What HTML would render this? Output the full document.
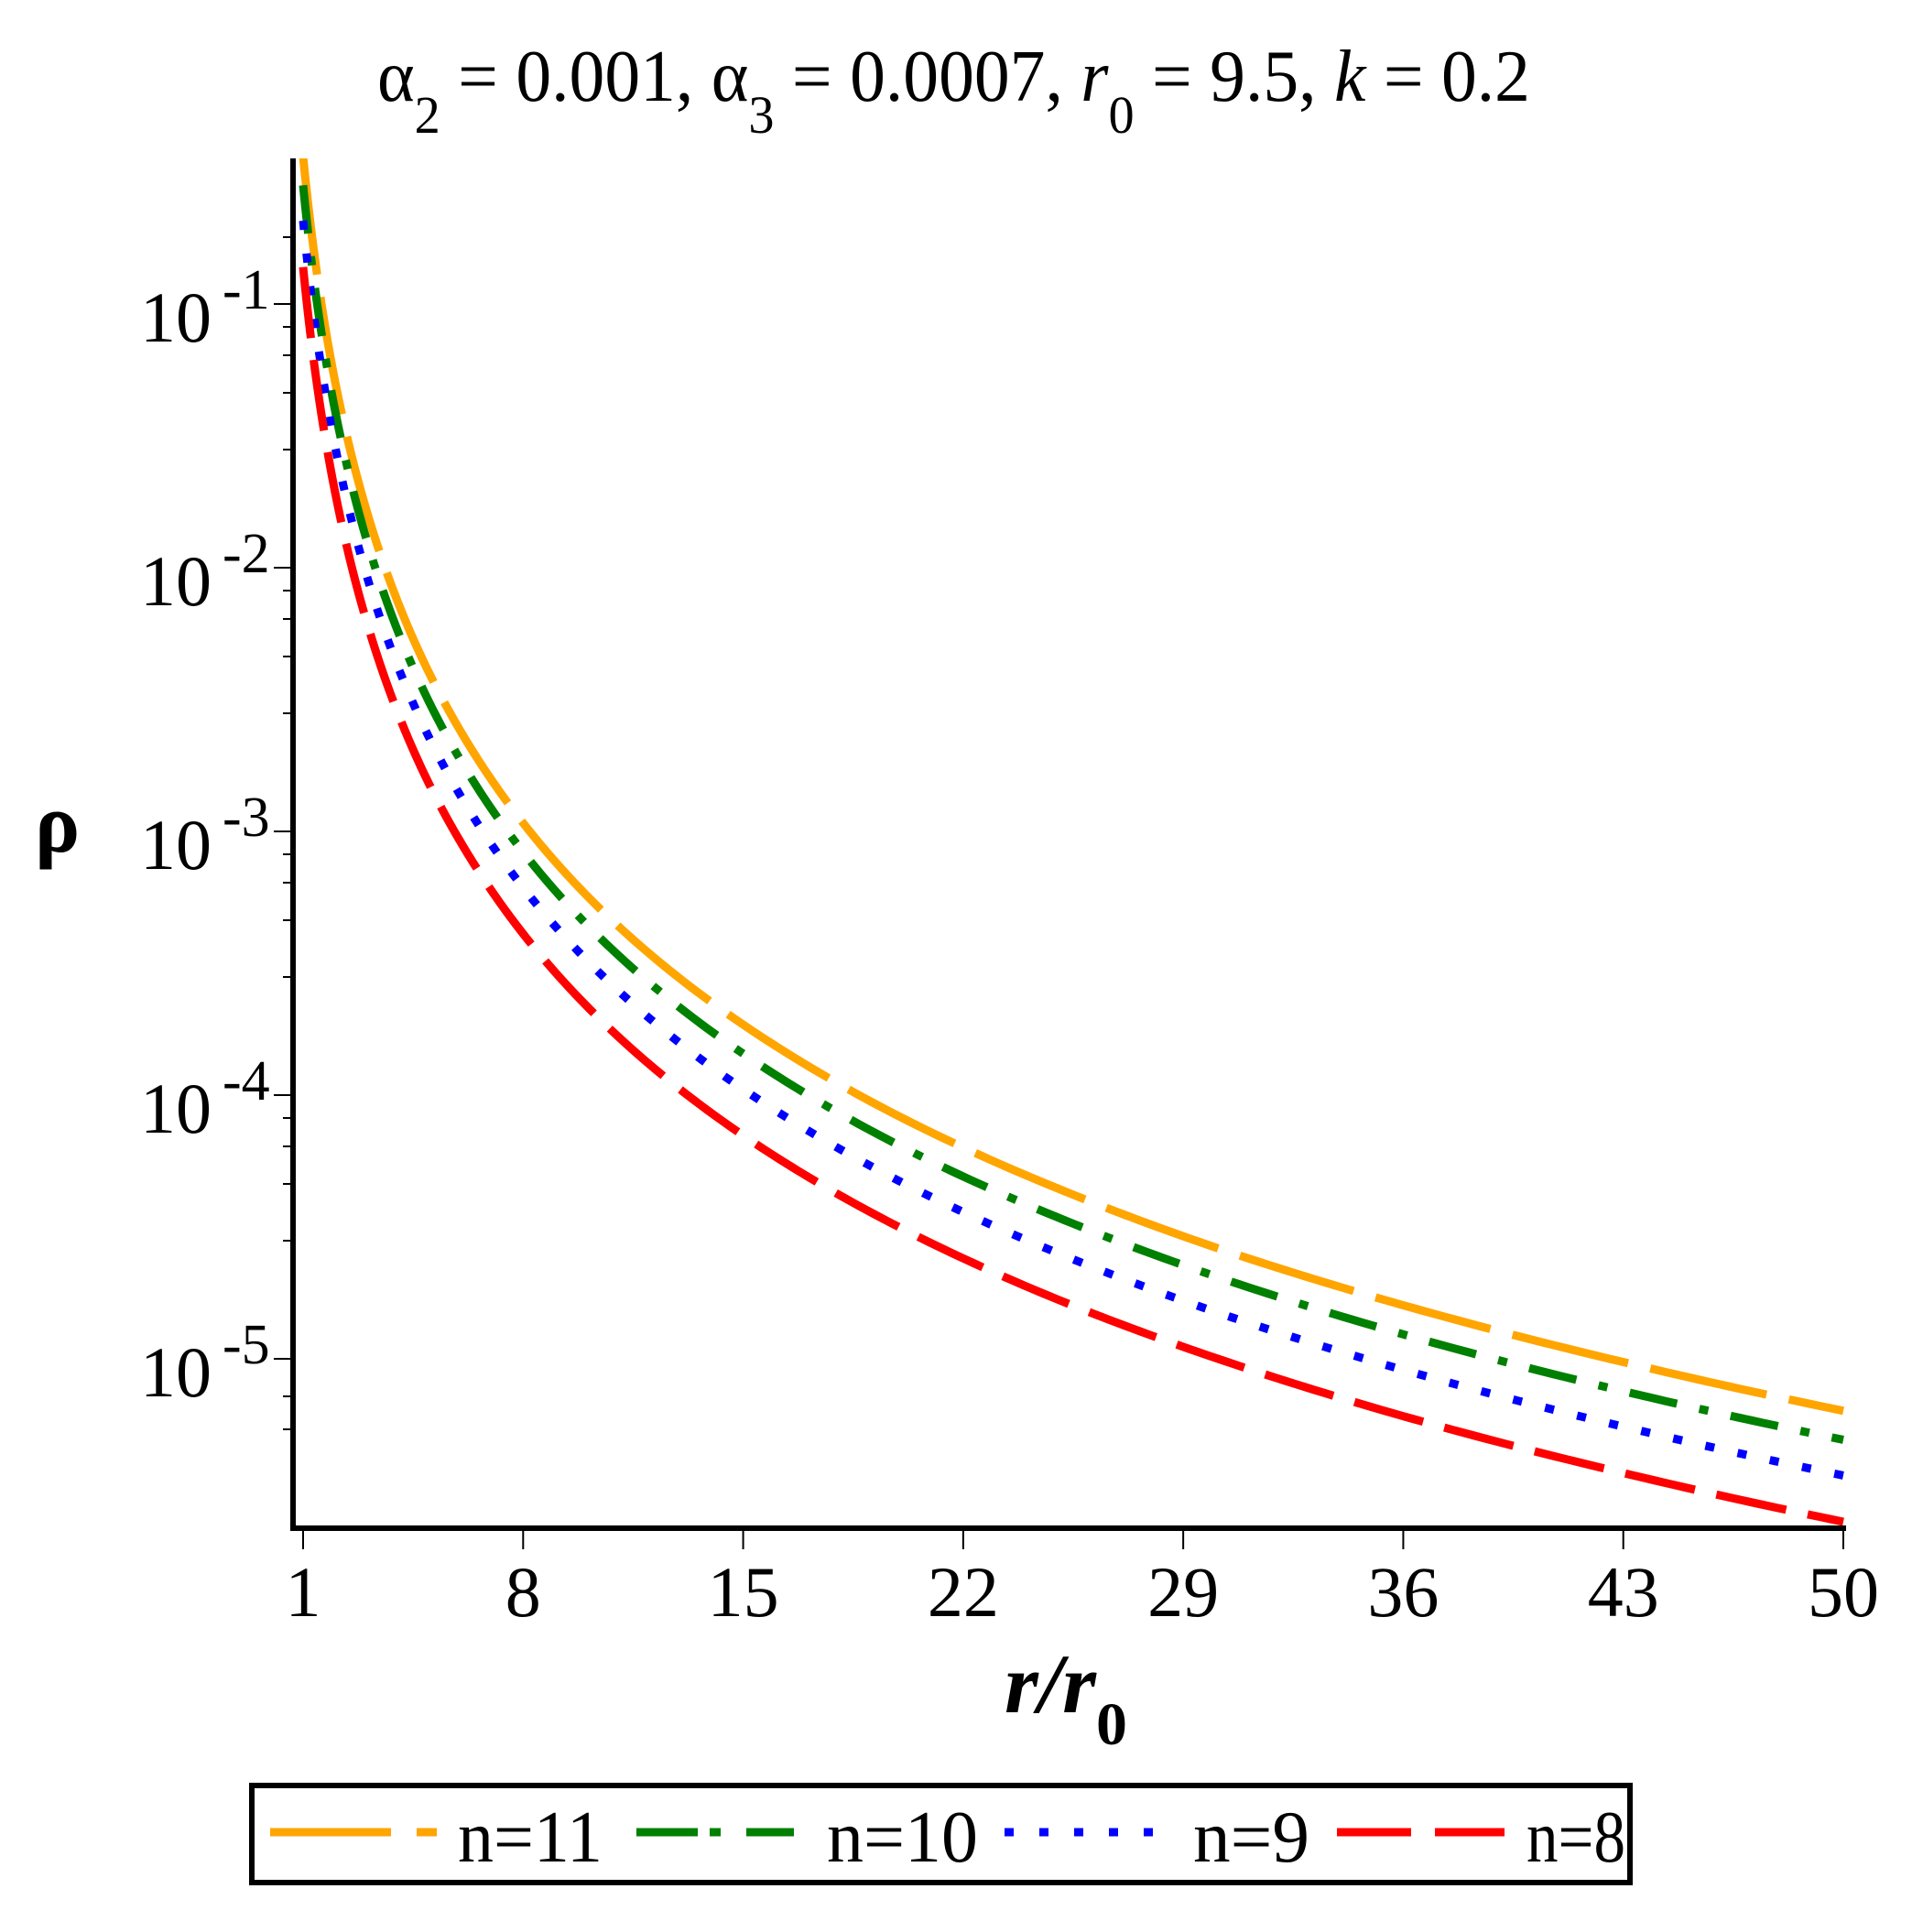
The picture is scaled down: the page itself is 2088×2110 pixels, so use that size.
<!DOCTYPE html>
<html><head><meta charset="utf-8"><style>
html,body{margin:0;padding:0;background:#fff;}
svg{display:block;font-family:"Liberation Serif",serif;}
</style></head><body>
<svg id="chart" width="2088" height="2110" viewBox="0 0 2088 2110" xmlns="http://www.w3.org/2000/svg">
<defs><clipPath id="plotclip"><rect x="323" y="173" width="1700" height="1493"/></clipPath></defs>
<text x="412" y="110" font-size="80" fill="#000" textLength="1259" lengthAdjust="spacingAndGlyphs">α<tspan font-size="58" dy="35">2</tspan><tspan dy="-35"> = 0.001, α</tspan><tspan font-size="58" dy="35">3</tspan><tspan dy="-35"> = 0.0007, </tspan><tspan font-style="italic">r</tspan><tspan font-size="58" dy="35">0</tspan><tspan dy="-35"> = 9.5, </tspan><tspan font-style="italic">k</tspan><tspan> = 0.2</tspan></text>
<g id="axes"></g>
<g id="series" clip-path="url(#plotclip)"></g>
<line x1="320" y1="173" x2="320" y2="1672" stroke="#000" stroke-width="6"/>
<line x1="317" y1="1669" x2="2016" y2="1669" stroke="#000" stroke-width="6"/>
<text x="38" y="930" font-size="92" font-weight="bold">ρ</text>
<text x="1097" y="1870" font-size="92" font-weight="bold" font-style="italic" textLength="134" lengthAdjust="spacingAndGlyphs">r/r<tspan font-size="66" font-style="normal" dy="35">0</tspan></text>
<g>
<rect x="275" y="1950" width="1505" height="106" fill="none" stroke="#000" stroke-width="6"/>
<g><line x1="295" y1="2001" x2="477" y2="2001" stroke="orange" stroke-width="9" stroke-dasharray="132 28 22"/><text x="500" y="2033" font-size="80" textLength="158" lengthAdjust="spacingAndGlyphs">n=11</text></g>
<g><line x1="695" y1="2001" x2="867" y2="2001" stroke="green" stroke-width="9" stroke-dasharray="67 13 12 28 52"/><text x="903" y="2033" font-size="80" textLength="165" lengthAdjust="spacingAndGlyphs">n=10</text></g>
<g><line x1="1097" y1="2001" x2="1262" y2="2001" stroke="blue" stroke-width="9" stroke-dasharray="10 28"/><text x="1303" y="2033" font-size="80" textLength="127" lengthAdjust="spacingAndGlyphs">n=9</text></g>
<g><line x1="1460" y1="2001" x2="1643" y2="2001" stroke="red" stroke-width="9" stroke-dasharray="81 26"/><text x="1667" y="2033" font-size="80" textLength="108" lengthAdjust="spacingAndGlyphs">n=8</text></g>
</g>
</svg>
<script>
const xs = [1,2,3,4,5,6,8,10,13,16,20,25,30,36,43,50];
const rhoN11 = [0.363,0.0521,0.01675,0.00748,0.00401,0.00241,0.001076,5.75e-4,2.76e-4,1.545e-4,8.26e-5,4.43e-5,2.65e-5,1.596e-5,9.72e-6,6.35e-6];
const rhoN10 = [0.282,0.0404,0.0130,0.00580,0.00311,0.00187,8.35e-4,4.46e-4,2.14e-4,1.199e-4,6.41e-5,3.44e-5,2.06e-5,1.238e-5,7.54e-6,4.93e-6];
const rhoN9 = [0.207,0.0296,0.00953,0.00426,0.00228,0.00137,6.12e-4,3.27e-4,1.57e-4,8.79e-5,4.70e-5,2.52e-5,1.51e-5,9.08e-6,5.53e-6,3.61e-6];
const rhoN8 = [0.138,0.0198,0.00637,0.00284,0.00152,9.16e-4,4.09e-4,2.19e-4,1.05e-4,5.87e-5,3.14e-5,1.68e-5,1.01e-5,6.06e-6,3.69e-6,2.41e-6];
const xTicks = [1,8,15,22,29,36,43,50];
const yDecades = [-1,-2,-3,-4,-5];

const NS = "http://www.w3.org/2000/svg";
function X(v){ return 331 + (v-1)*(2013-331)/49; }
function Y(v){ return 332 + (-1 - Math.log10(v))*288; }
function mk(tag, attrs, parent){ const e=document.createElementNS(NS,tag); for(const k in attrs) e.setAttribute(k,attrs[k]); parent.appendChild(e); return e; }

const axes = document.getElementById('axes');
xTicks.forEach(t=>{
  const l = mk('line',{x1:X(t),x2:X(t),y1:1672,y2:1692,stroke:'#000','stroke-width':2},axes);
  
  
  const tx = mk('text',{x:X(t),y:1765,'font-size':78,'text-anchor':'middle'},axes);
  
  
  tx.textContent = String(t);
});
yDecades.forEach(d=>{
  const y = Y(Math.pow(10,d));
  const l = mk('line',{x1:299,x2:320,y1:y,y2:y,stroke:'#000','stroke-width':2},axes);
  
  
  const tx = mk('text',{x:153,y:y+41,'font-size':78},axes);
  
  
  tx.textContent = '10';
  const sp = mk('tspan',{'font-size':62,dx:12,dy:-36},tx);
  sp.textContent = '-' + String(-d);
  const offs = d===-5 ? [41,77] : [25,56,97,159];
  offs.forEach(o=>{
    const m = mk('line',{x1:309,x2:320,y1:y+o,y2:y+o,stroke:'#000','stroke-width':2},axes);
    
    
  });
});
{ const m = mk('line',{x1:309,x2:320,y1:259,y2:259,stroke:'#000','stroke-width':2},axes);
  
   }

const seriesG = document.getElementById('series');
const specs = [
  {vals:rhoN11,color:'orange',dash:'130 25',name:'curve-n11'},
  {vals:rhoN10,color:'green',dash:'53 25 10 25',name:'curve-n10'},
  {vals:rhoN9,color:'blue',dash:'10 26',name:'curve-n9'},
  {vals:rhoN8,color:'red',dash:'78 24',name:'curve-n8'}
];
specs.forEach(s=>{
  let d='';
  for(let i=0;i<xs.length-1;i++){
    const a=Math.log(xs[i]), b=Math.log(xs[i+1]);
    const ya=Math.log(s.vals[i]), yb=Math.log(s.vals[i+1]);
    const n=20;
    for(let j=(i===0?0:1);j<=n;j++){
      const lx=a+(b-a)*j/n, ly=ya+(yb-ya)*j/n;
      d += (d===''?'M':'L') + X(Math.exp(lx)).toFixed(2)+','+Y(Math.exp(ly)).toFixed(2);
    }
  }
  const p = mk('path',{d:d,fill:'none',stroke:s.color,'stroke-width':9,'stroke-dasharray':s.dash},seriesG);
  
  
});
</script>
</body></html>
